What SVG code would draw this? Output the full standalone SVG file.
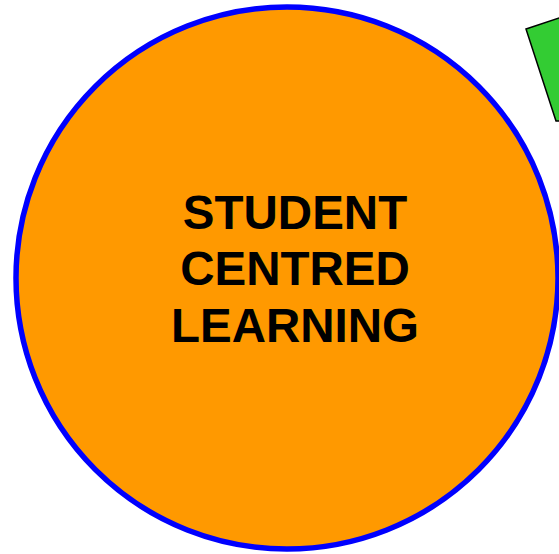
<svg xmlns="http://www.w3.org/2000/svg" width="559" height="554" viewBox="0 0 559 554">
<style>
.lbl{font-family:"Liberation Sans",Arial,sans-serif;font-weight:bold;font-size:47.5px;fill:#000;text-anchor:middle}
</style>
<rect width="559" height="554" fill="#fff"/>
<g id="green-shape">
<polygon points="526,29 562,17 562,121 556,121" fill="#33cc33" stroke="#000" stroke-width="1.5"/>
</g>
<g id="student-centred-learning">
<circle cx="287" cy="278" r="271" fill="#ff9900" stroke="#0000ff" stroke-width="5.5"/>
<text class="lbl" x="295" y="229">STUDENT</text>
<text class="lbl" x="295" y="285">CENTRED</text>
<text class="lbl" x="295" y="342">LEARNING</text>
</g>
<g id="connectors"></g>
</svg>
